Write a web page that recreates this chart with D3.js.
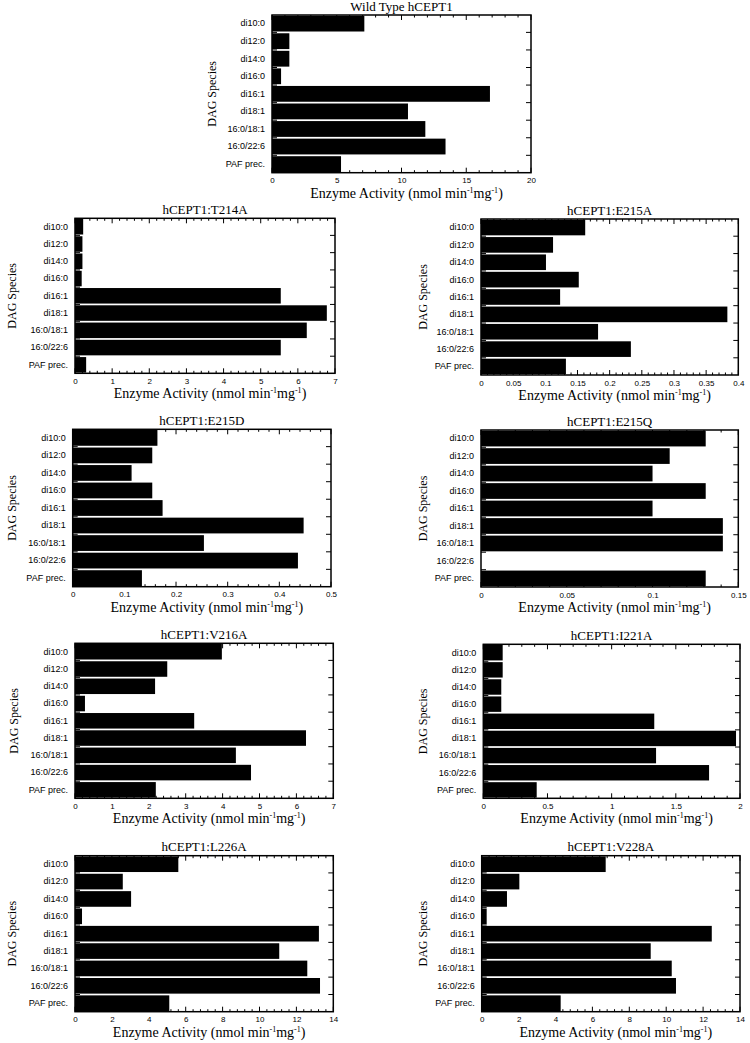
<!DOCTYPE html>
<html>
<head>
<meta charset="utf-8">
<script src="https://cdn.jsdelivr.net/npm/d3@7"></script>
<style>
  html, body { margin: 0; padding: 0; background: #fff; }
  svg { display: block; }
</style>
</head>
<body>
<svg id="chart" width="750" height="1043"></svg>
<script>
// ---------- data ----------
const categories = ["di10:0","di12:0","di14:0","di16:0","di16:1","di18:1","16:0/18:1","16:0/22:6","PAF prec."];

const titles = ["Wild Type hCEPT1","hCEPT1:T214A","hCEPT1:E215A","hCEPT1:E215D","hCEPT1:E215Q",
                "hCEPT1:V216A","hCEPT1:I221A","hCEPT1:L226A","hCEPT1:V228A"];

const wildType = [7.13, 1.34, 1.34, 0.70, 16.83, 10.50, 11.84, 13.40, 5.33];
const t214a    = [0.22, 0.20, 0.20, 0.18, 5.54, 6.78, 6.24, 5.54, 0.30];
const e215a    = [0.162, 0.112, 0.101, 0.152, 0.123, 0.383, 0.182, 0.233, 0.132];
const e215d    = [0.164, 0.154, 0.114, 0.154, 0.174, 0.447, 0.254, 0.436, 0.134];
const e215q    = [0.131, 0.110, 0.100, 0.131, 0.100, 0.141, 0.141, 0, 0.131];
const v216a    = [3.98, 2.50, 2.17, 0.27, 3.23, 6.26, 4.36, 4.77, 2.19];
const i221a    = [0.151, 0.151, 0.140, 0.140, 1.332, 1.969, 1.346, 1.759, 0.416];
const l226a    = [5.60, 2.59, 3.04, 0.38, 13.22, 11.07, 12.59, 13.28, 5.11];
const v228a    = [6.72, 2.04, 1.37, 0.27, 12.47, 9.16, 10.30, 10.53, 4.28];

const ticksWT   = [0, 5, 10, 15, 20];
const ticks0to7 = [0, 1, 2, 3, 4, 5, 6, 7];
const ticksE215A = [0, 0.05, 0.1, 0.15, 0.2, 0.25, 0.3, 0.35, 0.4];
const ticksE215D = [0, 0.1, 0.2, 0.3, 0.4, 0.5];
const ticksE215Q = [0, 0.05, 0.1, 0.15];
const ticksI221A = [0, 0.5, 1, 1.5, 2];
const ticks0to14 = [0, 2, 4, 6, 8, 10, 12, 14];

const seriesValues = [wildType, t214a, e215a, e215d, e215q, v216a, i221a, l226a, v228a];
const seriesTicks  = [ticksWT, ticks0to7, ticksE215A, ticksE215D, ticksE215Q, ticks0to7, ticksI221A, ticks0to14, ticks0to14];

// ---------- layout (plot boxes: left, right, top, bottom; y-label x) ----------
const boxes = [
  [272, 531, 15, 172.7, 212],
  [75, 335, 218.3, 373.3, 12],
  [481, 738.3, 219, 375, 423],
  [72.7, 331, 429.3, 586.7, 12],
  [481, 738.3, 430, 587, 423],
  [75, 333.3, 643.3, 798.3, 14],
  [483.3, 740, 644.3, 798.3, 423],
  [75, 333.3, 855.7, 1011.7, 12],
  [481.7, 740, 855.7, 1011.7, 423]
];

const svg = d3.select("#chart");
const serif = "'Liberation Serif', 'Times New Roman', serif";
const sans = "'Liberation Sans', Arial, Helvetica, sans-serif";

seriesValues.forEach((vals, i) => {
  const [x0, x1, y0, y1, ylx] = boxes[i];
  const ticks = seriesTicks[i];
  const xMax = ticks[ticks.length - 1];
  const x = d3.scaleLinear().domain([0, xMax]).range([x0, x1]);
  const y = d3.scaleBand().domain(categories).range([y0, y1]).paddingInner(0.1).paddingOuter(0.04);
  const g = svg.append("g");

  // bars
  g.selectAll("rect.bar").data(categories).join("rect")
    .attr("class", "bar")
    .attr("x", x(0))
    .attr("y", d => y(d))
    .attr("width", (d, k) => Math.max(0, x(vals[k]) - x(0)))
    .attr("height", y.bandwidth())
    .attr("fill", "#000");

  // minor ticks
  const step = ticks[1] - ticks[0];
  const minor = [];
  for (let t = 0; t < ticks.length - 1; t++) {
    for (let m = 1; m < 5; m++) minor.push(ticks[t] + step * m / 5);
  }

  // bottom axis labels
  const bottom = g.append("g").attr("transform", `translate(0,${y1})`)
    .call(d3.axisBottom(x).tickValues(ticks).tickSize(0)
      .tickFormat(d => d3.format("~g")(d)));
  bottom.select(".domain").remove();
  bottom.selectAll("text").attr("y", 10.5).attr("dy", 0)
    .attr("font-family", sans).attr("font-size", 8).attr("fill", "#000");

  const tickLines = g.append("g").attr("stroke", "#000").attr("stroke-width", 1);
  ticks.forEach(t => {
    tickLines.append("line").attr("x1", x(t)).attr("x2", x(t)).attr("y1", y1).attr("y2", y1 - 5);
    tickLines.append("line").attr("x1", x(t)).attr("x2", x(t)).attr("y1", y0).attr("y2", y0 + 5);
  });
  minor.forEach(t => {
    tickLines.append("line").attr("x1", x(t)).attr("x2", x(t)).attr("y1", y1).attr("y2", y1 - 2.5);
    tickLines.append("line").attr("x1", x(t)).attr("x2", x(t)).attr("y1", y0).attr("y2", y0 + 2.5);
  });
  // band boundary ticks on left and right
  const step2 = y.step();
  for (let k = 1; k < categories.length; k++) {
    const yy = y(categories[k]) - (step2 - y.bandwidth()) / 2;
    tickLines.append("line").attr("x1", x1).attr("x2", x1 - 5).attr("y1", yy).attr("y2", yy);
    tickLines.append("line").attr("x1", x0).attr("x2", x0 + 5).attr("y1", yy).attr("y2", yy);
  }

  // left category labels
  const left = g.append("g").attr("transform", `translate(${x0},0)`)
    .call(d3.axisLeft(y).tickSize(0).tickPadding(7));
  left.select(".domain").remove();
  left.selectAll("text").attr("font-family", sans).attr("font-size", 9).attr("fill", "#000");

  // frame
  g.append("rect").attr("x", x0).attr("y", y0).attr("width", x1 - x0).attr("height", y1 - y0)
    .attr("fill", "none").attr("stroke", "#000").attr("stroke-width", 1.5);

  // title
  g.append("text").attr("x", (x0 + x1) / 2).attr("y", y0 - 4.5)
    .attr("text-anchor", "middle").attr("font-family", serif).attr("font-size", 13)
    .text(titles[i]);

  // x axis title
  const xt = g.append("text").attr("x", (x0 + x1) / 2 + 5).attr("y", y1 + 25)
    .attr("text-anchor", "middle").attr("font-family", serif).attr("font-size", 14);
  xt.append("tspan").text("Enzyme Activity (nmol min");
  xt.append("tspan").attr("font-size", 8).attr("dy", -5).text("-1");
  xt.append("tspan").attr("dy", 5).text("mg");
  xt.append("tspan").attr("font-size", 8).attr("dy", -5).text("-1");
  xt.append("tspan").attr("dy", 5).text(")");

  // y axis title
  g.append("text")
    .attr("transform", `translate(${ylx + 4},${(y0 + y1) / 2}) rotate(-90)`)
    .attr("text-anchor", "middle").attr("font-family", serif).attr("font-size", 12)
    .text("DAG Species");
});
</script>
</body>
</html>
